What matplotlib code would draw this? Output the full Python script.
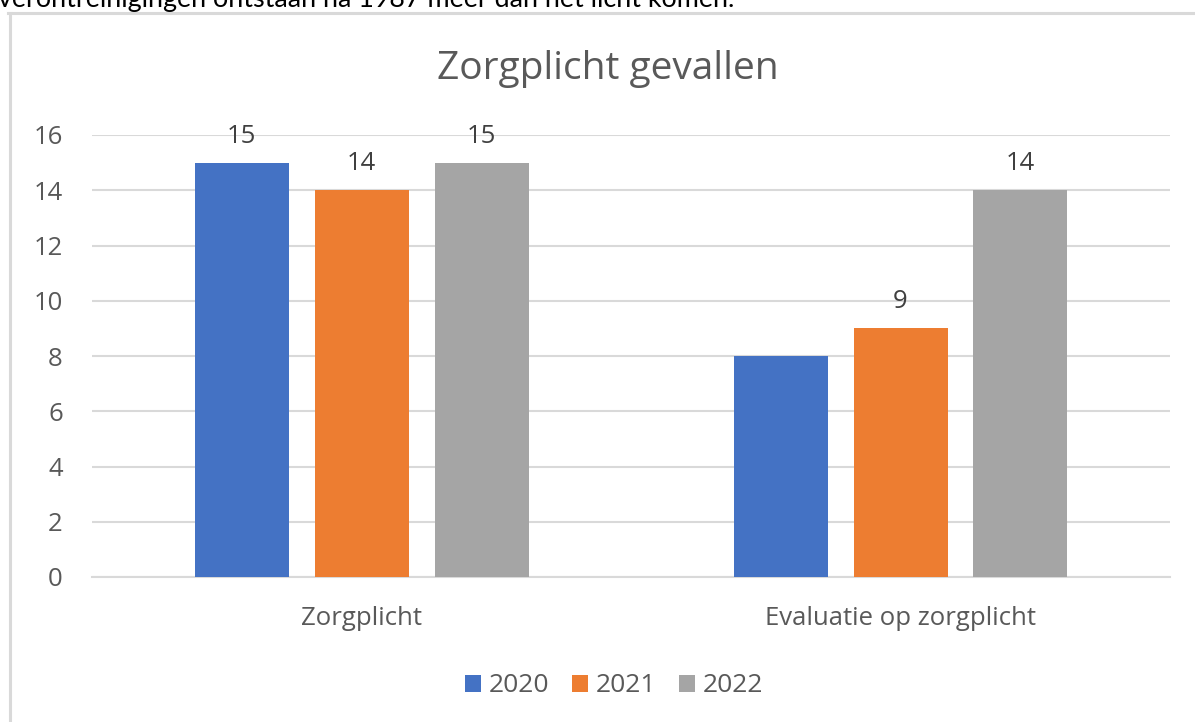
import numpy as np
import matplotlib
matplotlib.use("Agg")
import matplotlib.pyplot as plt
from matplotlib.lines import Line2D

# ============================================
# DATA
# ============================================
categories = ["Zorgplicht", "Evaluatie op zorgplicht"]
years = ["2020", "2021", "2022"]
values_2020 = [15, 8]
values_2021 = [14, 9]
values_2022 = [15, 14]
series = [values_2020, values_2021, values_2022]
colors = ["#4472C4", "#ED7D31", "#A5A5A5"]
# only these data labels are shown in the original
shown_labels = [[True, False], [True, True], [True, True]]
yticks = [0, 2, 4, 6, 8, 10, 12, 14, 16]

title = "Zorgplicht gevallen"
page_text = "verontreinigingen ontstaan na 1987 meer dan het licht komen."

plt.rcParams["font.family"] = ["Open Sans", "DejaVu Sans"]
W, H = 1195, 722
fig = plt.figure(figsize=(W / 100, H / 100), dpi=100)
fig.patch.set_facecolor("white")

# plot area in pixels
left_px, right_px, zero_px, top_px = 92, 1170, 577, 135
ax = fig.add_axes([left_px / W, (H - zero_px) / H,
                   (right_px - left_px) / W, (zero_px - top_px) / H])

x = np.arange(len(categories))
bar_w = 94 / 539
step = 120 / 539
for i, (vals, col) in enumerate(zip(series, colors)):
    bars = ax.bar(x + (i - 1) * step, vals, width=bar_w, color=col,
                  label=years[i], zorder=3)
    labels = [str(v) if s else "" for v, s in zip(vals, shown_labels[i])]
    ax.bar_label(bars, labels=labels, padding=10, fontsize=18.5, color="#404040")

ax.set_xlim(-0.5, 1.5)
ax.set_ylim(0, 16)
ax.set_yticks(yticks)
ax.set_xticks(x)
ax.set_xticklabels(categories)
ax.grid(axis="y", color="#D9D9D9", linewidth=1.5, zorder=0)
ax.set_axisbelow(True)
for s in ["top", "right", "left"]:
    ax.spines[s].set_visible(False)
ax.spines["bottom"].set_color("#D9D9D9")
ax.spines["bottom"].set_linewidth(1.5)
ax.tick_params(axis="y", length=0, pad=21, labelsize=18.5, labelcolor="#595959")
ax.tick_params(axis="x", length=0, pad=21, labelsize=18.5, labelcolor="#595959")

fig.text(608 / W, 1 - 79 / H, title, ha="center", va="baseline",
         fontsize=28, color="#595959")

leg = fig.legend(loc="center", bbox_to_anchor=(614 / W, 1 - 686 / H), ncol=3,
                 frameon=False, fontsize=19, handlelength=0.6, handleheight=0.6,
                 handletextpad=0.3, columnspacing=0.87)
for t in leg.get_texts():
    t.set_color("#595959")

# chart frame (left and top edges visible in the screenshot)
fig.add_artist(Line2D([9.5 / W, 9.5 / W], [0, 1 - 12.5 / H],
                      transform=fig.transFigure, color="#D9D9D9", linewidth=2.2))
fig.add_artist(Line2D([8 / W, 1], [1 - 12.5 / H, 1 - 12.5 / H],
                      transform=fig.transFigure, color="#D9D9D9", linewidth=2.2))

# document text cut off above the chart
fig.text(-2 / W, 1 - 7 / H, page_text, ha="left", va="baseline",
         fontsize=19.4, color="black", family=["Lato", "DejaVu Sans"])

fig.savefig("out.png", dpi=100)
